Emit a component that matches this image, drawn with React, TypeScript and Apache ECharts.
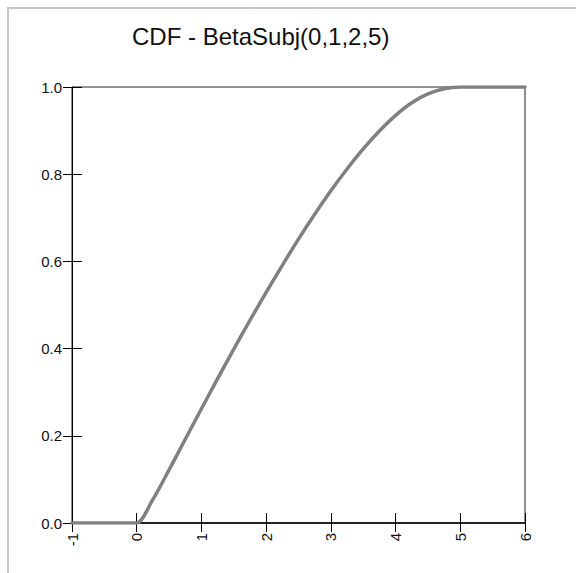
import React, { useEffect, useRef } from "react";
import * as echarts from "echarts";

const titleText = "CDF - BetaSubj(0,1,2,5)";
const xValues = [-1, -0.1, 0, 0.25, 0.5, 0.75, 1, 1.25, 1.5, 1.75, 2, 2.25, 2.5, 2.75, 3, 3.25, 3.5, 3.75, 4, 4.25, 4.5, 4.75, 5, 5.1, 6];
const cdfValues = [0, 0, 0, 0.054, 0.122, 0.192, 0.262, 0.331, 0.399, 0.465, 0.529, 0.591, 0.651, 0.708, 0.762, 0.812, 0.858, 0.899, 0.935, 0.964, 0.984, 0.996, 1, 1, 1];
const xMin = -1;
const xMax = 6;
const yMin = 0;
const yMax = 1;

const FONT = "'Liberation Sans', Arial, sans-serif";

export default function App() {
  const ref = useRef<HTMLDivElement>(null);
  useEffect(() => {
    if (!ref.current) return;
    const chart = echarts.init(ref.current, undefined, { renderer: "svg" });
    const data = xValues.map((x, i) => [x, cdfValues[i]]);
    chart.setOption({
      animation: false,
      backgroundColor: "#ffffff",
      title: {
        text: titleText,
        left: 132,
        top: 24,
        padding: 0,
        textStyle: { fontFamily: FONT, fontSize: 24, fontWeight: "normal", color: "#111" },
      },
      graphic: [
        {
          type: "rect",
          shape: { x: 8, y: 8, width: 620, height: 620 },
          style: { fill: "none", stroke: "#c8c8c8", lineWidth: 2 },
          silent: true,
        },
      ],
      grid: {
        left: 72,
        right: 51,
        top: 87,
        bottom: 50,
        show: true,
        borderColor: "#222",
        borderWidth: 1,
        backgroundColor: "transparent",
      },
      xAxis: [
        {
          type: "value",
          min: xMin,
          max: xMax,
          interval: 1,
          position: "bottom",
          axisLine: { show: true, onZero: false, lineStyle: { color: "#000", width: 1.5 } },
          axisTick: { show: true, inside: false, length: 9, lineStyle: { color: "#000" } },
          axisLabel: {
            rotate: 90,
            margin: 10,
            fontFamily: FONT,
            fontSize: 15,
            color: "#111",
          },
          splitLine: { show: false },
        },
        {
          type: "value",
          min: xMin,
          max: xMax,
          interval: 1,
          position: "bottom",
          axisLine: { show: false, onZero: false },
          axisTick: { show: true, inside: true, length: 10, lineStyle: { color: "#000" } },
          axisLabel: { show: false },
          splitLine: { show: false },
        },
      ],
      yAxis: [
        {
          type: "value",
          min: yMin,
          max: yMax,
          interval: 0.2,
          position: "left",
          axisLine: { show: true, onZero: false, lineStyle: { color: "#000", width: 1 } },
          axisTick: { show: true, inside: false, length: 9, lineStyle: { color: "#000" } },
          axisLabel: {
            margin: 10,
            fontFamily: FONT,
            fontSize: 15,
            color: "#111",
            formatter: (v: number) => v.toFixed(1),
          },
          splitLine: { show: false },
        },
        {
          type: "value",
          min: yMin,
          max: yMax,
          interval: 0.2,
          position: "left",
          axisLine: { show: false, onZero: false },
          axisTick: { show: true, inside: true, length: 10, lineStyle: { color: "#000" } },
          axisLabel: { show: false },
          splitLine: { show: false },
        },
      ],
      series: [
        {
          type: "line",
          data,
          xAxisIndex: 0,
          yAxisIndex: 0,
          showSymbol: false,
          smooth: 0.3,
          lineStyle: { color: "#808080", width: 3.5, join: "round", cap: "round" },
          itemStyle: { color: "#808080" },
          z: 3,
        },
      ],
    });
    return () => chart.dispose();
  }, []);
  return (
    <div
      ref={ref}
      style={{ position: "fixed", left: 0, top: 0, width: 576, height: 573 }}
    />
  );
}
